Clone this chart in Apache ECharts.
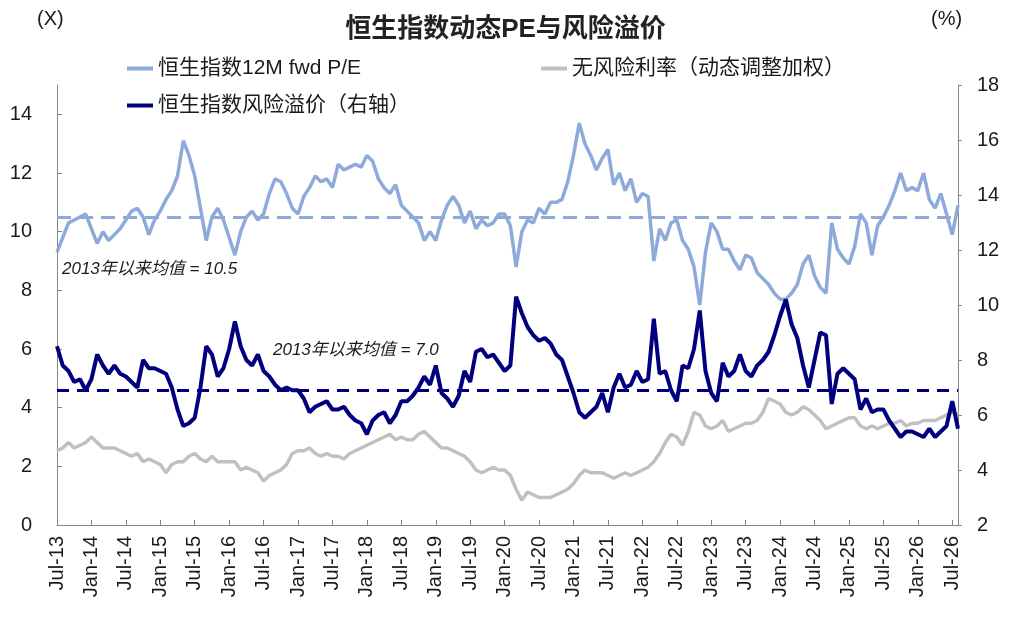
<!DOCTYPE html>
<html>
<head>
<meta charset="utf-8">
<script src="https://cdn.jsdelivr.net/npm/echarts@6/dist/echarts.min.js"></script>
<style>
  html, body { margin: 0; padding: 0; background: #fff; }
  #main { width: 1011px; height: 622px; }
</style>
</head>
<body>
<div id="main"></div>
<script>
// 月度数据：2013年7月 至 2026年8月
const monthNames = ['Jan','Feb','Mar','Apr','May','Jun','Jul','Aug','Sep','Oct','Nov','Dec']
const months = []
for (let i = 0; i < 158; i++) {
  const m = (6 + i) % 12
  const y = 13 + Math.floor((6 + i) / 12)
  months.push(monthNames[m] + '-' + y)
}

// 恒生指数12M fwd P/E（左轴）
const peData = [
  9.3, 9.8, 10.3, 10.4, 10.5, 10.6, 10.1, 9.6, 10.0, 9.7,
  9.9, 10.1, 10.4, 10.7, 10.8, 10.5, 9.9, 10.4, 10.7, 11.1,
  11.4, 11.9, 13.1, 12.6, 11.9, 10.8, 9.7, 10.5, 10.8, 10.4,
  9.8, 9.2, 10.0, 10.5, 10.7, 10.4, 10.6, 11.3, 11.8, 11.7,
  11.3, 10.8, 10.6, 11.2, 11.5, 11.9, 11.7, 11.8, 11.5, 12.3,
  12.1, 12.2, 12.3, 12.2, 12.6, 12.4, 11.8, 11.5, 11.3, 11.6,
  10.9, 10.7, 10.5, 10.3, 9.7, 10.0, 9.7, 10.4, 10.9, 11.2,
  10.9, 10.3, 10.7, 10.1, 10.4, 10.2, 10.3, 10.6, 10.6, 10.2,
  8.8, 10.0, 10.4, 10.3, 10.8, 10.6, 11.0, 11.0, 11.1, 11.7,
  12.6, 13.7, 13.0, 12.6, 12.1, 12.5, 12.8, 11.6, 12.0, 11.4,
  11.8, 11.0, 11.3, 11.2, 9.0, 10.1, 9.7, 10.3, 10.4, 9.7,
  9.4, 8.8, 7.5, 9.3, 10.3, 10.0, 9.4, 9.4, 9.0, 8.7,
  9.2, 9.1, 8.6, 8.4, 8.2, 7.9, 7.7, 7.7, 7.9, 8.2,
  8.9, 9.2, 8.5, 8.1, 7.9, 10.3, 9.4, 9.1, 8.9, 9.5,
  10.6, 10.3, 9.2, 10.2, 10.5, 10.9, 11.4, 12.0, 11.4, 11.5,
  11.4, 12.0, 11.1, 10.8, 11.3, 10.6, 9.9, 10.9
]

// 无风险利率（动态调整加权，右轴，%）
const rfData = [
  4.7, 4.8, 5.0, 4.8, 4.9, 5.0, 5.2, 5.0, 4.8, 4.8,
  4.8, 4.7, 4.6, 4.5, 4.6, 4.3, 4.4, 4.3, 4.2, 3.9,
  4.2, 4.3, 4.3, 4.5, 4.6, 4.4, 4.3, 4.5, 4.3, 4.3,
  4.3, 4.3, 4.0, 4.1, 4.0, 3.9, 3.6, 3.8, 3.9, 4.0,
  4.2, 4.6, 4.7, 4.7, 4.8, 4.6, 4.5, 4.6, 4.5, 4.5,
  4.4, 4.6, 4.7, 4.8, 4.9, 5.0, 5.1, 5.2, 5.3, 5.1,
  5.2, 5.1, 5.1, 5.3, 5.4, 5.2, 5.0, 4.8, 4.8, 4.7,
  4.6, 4.5, 4.3, 4.0, 3.9, 4.0, 4.1, 4.0, 4.0, 3.8,
  3.3, 2.9, 3.2, 3.1, 3.0, 3.0, 3.0, 3.1, 3.2, 3.3,
  3.5, 3.8, 4.0, 3.9, 3.9, 3.9, 3.8, 3.7, 3.8, 3.9,
  3.8, 3.9, 4.0, 4.1, 4.3, 4.6, 5.0, 5.3, 5.2, 4.9,
  5.4, 6.1, 6.0, 5.6, 5.5, 5.6, 5.8, 5.4, 5.5, 5.6,
  5.7, 5.7, 5.8, 6.1, 6.6, 6.5, 6.4, 6.1, 6.0, 6.1,
  6.3, 6.2, 6.0, 5.8, 5.5, 5.6, 5.7, 5.8, 5.9, 5.9,
  5.6, 5.5, 5.6, 5.5, 5.6, 5.7, 5.7, 5.8, 5.6, 5.7,
  5.7, 5.8, 5.8, 5.8, 5.9, 6.0, 6.1, 6.0
]

// 恒生指数风险溢价（右轴，%）
const erpData = [
  8.5, 7.8, 7.6, 7.2, 7.3, 6.9, 7.3, 8.2, 7.8, 7.5,
  7.8, 7.5, 7.4, 7.2, 7.0, 8.0, 7.7, 7.7, 7.6, 7.5,
  7.0, 6.2, 5.6, 5.7, 5.9, 7.0, 8.5, 8.2, 7.4, 7.7,
  8.4, 9.4, 8.5, 8.0, 7.8, 8.2, 7.6, 7.4, 7.1, 6.9,
  7.0, 6.9, 6.9, 6.6, 6.1, 6.3, 6.4, 6.5, 6.2, 6.2,
  6.3, 6.0, 5.8, 5.7, 5.3, 5.8, 6.0, 6.1, 5.7, 6.0,
  6.5, 6.5, 6.7, 7.0, 7.4, 7.1, 7.8, 6.8, 6.6, 6.3,
  6.7, 7.6, 7.2, 8.3, 8.4, 8.1, 8.2, 7.9, 7.6, 7.8,
  10.3, 9.7, 9.2, 8.9, 8.7, 8.8, 8.6, 8.2, 8.0, 7.4,
  6.8, 6.1, 5.9, 6.1, 6.3, 6.8, 6.1, 7.0, 7.5, 7.0,
  7.1, 7.6, 7.2, 7.3, 9.5, 7.5, 7.6, 6.9, 6.5, 7.8,
  7.7, 8.4, 9.8, 7.6, 6.8, 6.5, 7.9, 7.4, 7.6, 8.2,
  7.6, 7.4, 7.8, 8.0, 8.3, 8.9, 9.6, 10.2, 9.3, 8.8,
  7.8, 7.0, 8.0, 9.0, 8.9, 6.4, 7.5, 7.7, 7.5, 7.3,
  6.2, 6.6, 6.1, 6.2, 6.2, 5.8, 5.5, 5.2, 5.4, 5.4,
  5.3, 5.2, 5.5, 5.2, 5.4, 5.6, 6.5, 5.5
]

const peMean = 10.5
const erpMean = 6.9
const peMeanLabel = '2013年以来均值 = 10.5'
const erpMeanLabel = '2013年以来均值 = 7.0'

const FONT = "'Liberation Sans', 'Noto Sans CJK SC', sans-serif"
const TXT = '#1a1a1a'
const AXIS = '#868686'

const chart = echarts.init(document.getElementById('main'))

const legendBase = {
  icon: 'rect',
  itemWidth: 26,
  itemHeight: 4,
  textStyle: { fontSize: 21, color: TXT, fontFamily: FONT },
  selectedMode: false
}

let option = {
  animation: false,
  backgroundColor: '#fff',
  title: {
    text: '恒生指数动态PE与风险溢价',
    left: 'center',
    top: 12,
    textStyle: { fontSize: 26, fontWeight: 'bold', color: '#222', fontFamily: FONT }
  },
  legend: [
    Object.assign({ data: ['恒生指数12M fwd P/E'], left: 122, top: 53 }, legendBase),
    Object.assign({ data: ['无风险利率（动态调整加权）'], left: 536, top: 53 }, legendBase),
    Object.assign({ data: ['恒生指数风险溢价（右轴）'], left: 122, top: 90 }, legendBase)
  ],
  graphic: [
    { type: 'text', left: 37, top: 9, style: { text: '(X)', fontSize: 20, fill: TXT, fontFamily: FONT } },
    { type: 'text', left: 931, top: 9, style: { text: '(%)', fontSize: 20, fill: TXT, fontFamily: FONT } },
    { type: 'text', left: 62, top: 261, style: { text: peMeanLabel, fontSize: 17, fontStyle: 'italic', fill: TXT, fontFamily: FONT } },
    { type: 'text', left: 273, top: 342, style: { text: erpMeanLabel, fontSize: 17, fontStyle: 'italic', fill: TXT, fontFamily: FONT } }
  ],
  grid: { left: 57, right: 53, top: 85, bottom: 97 },
  xAxis: {
    type: 'category',
    data: months,
    boundaryGap: false,
    axisLine: { lineStyle: { color: AXIS, width: 1 } },
    axisTick: { inside: true, length: 5, interval: 5, lineStyle: { color: AXIS } },
    axisLabel: { interval: 5, rotate: 90, margin: 11, fontSize: 20, color: TXT, fontFamily: FONT },
    splitLine: { show: false }
  },
  yAxis: [
    {
      type: 'value', min: 0, max: 15, interval: 2,
      axisLine: { show: true, lineStyle: { color: AXIS } },
      axisTick: { show: true, inside: true, length: 5, lineStyle: { color: AXIS } },
      axisLabel: { fontSize: 20, color: TXT, margin: 25, fontFamily: FONT, showMaxLabel: false },
      splitLine: { show: false }
    },
    {
      type: 'value', min: 2, max: 18, interval: 2,
      axisLine: { show: true, lineStyle: { color: AXIS } },
      axisTick: { show: true, length: 4, lineStyle: { color: AXIS } },
      axisLabel: { fontSize: 20, color: TXT, margin: 19, fontFamily: FONT },
      splitLine: { show: false }
    }
  ],
  series: [
    {
      name: '无风险利率（动态调整加权）',
      type: 'line',
      yAxisIndex: 1,
      data: rfData,
      showSymbol: false,
      color: '#c0c0c0',
      lineStyle: { width: 3.5, color: '#c0c0c0' }
    },
    {
      name: '恒生指数12M fwd P/E',
      type: 'line',
      yAxisIndex: 0,
      data: peData,
      showSymbol: false,
      color: '#8eaadb',
      lineStyle: { width: 3.5, color: '#8eaadb' },
      markLine: {
        silent: true,
        symbol: 'none',
        label: { show: false },
        lineStyle: { color: '#8eaadb', width: 3, type: [14, 8] },
        data: [{ yAxis: peMean }]
      }
    },
    {
      name: '恒生指数风险溢价（右轴）',
      type: 'line',
      yAxisIndex: 1,
      data: erpData,
      showSymbol: false,
      color: '#00007f',
      lineStyle: { width: 4, color: '#00007f' },
      markLine: {
        silent: true,
        symbol: 'none',
        label: { show: false },
        lineStyle: { color: '#00007f', width: 3, type: [12, 8] },
        data: [{ yAxis: erpMean }]
      }
    }
  ]
}

chart.setOption(option)
</script>
</body>
</html>
